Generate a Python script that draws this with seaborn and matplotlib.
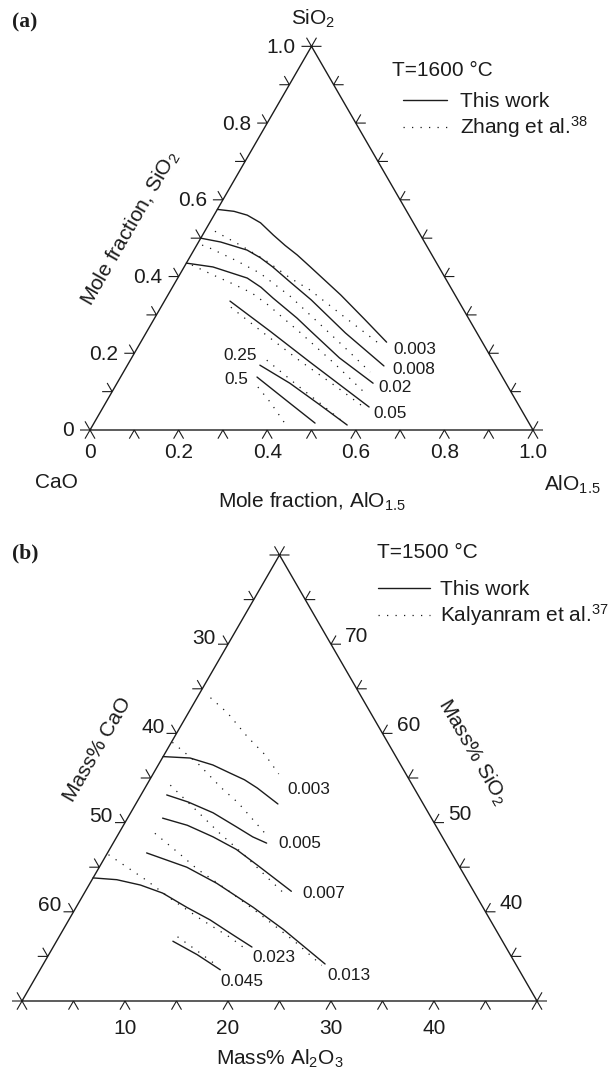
import numpy as np
import pandas as pd
import matplotlib
matplotlib.use("Agg")
import matplotlib.pyplot as plt
from matplotlib.lines import Line2D
import seaborn as sns

# ---------------------------------------------------------------------------
# (a) CaO-SiO2-AlO1.5 at 1600 C, mole fractions (AlO1.5, SiO2) along iso-lines
# ---------------------------------------------------------------------------
A_LEVELS = ["0.003", "0.008", "0.02", "0.05", "0.25", "0.5"]

# This work (solid)
a_tw_003_al = [0.0, 0.04, 0.075, 0.115, 0.16, 0.20, 0.24, 0.285, 0.39, 0.475, 0.555]
a_tw_003_si = [0.575, 0.57, 0.56, 0.54, 0.508, 0.481, 0.456, 0.425, 0.352, 0.289, 0.229]
a_tw_008_al = [0.0, 0.05, 0.12, 0.16, 0.20, 0.26, 0.33, 0.45, 0.58]
a_tw_008_si = [0.50, 0.49, 0.469, 0.449, 0.425, 0.385, 0.339, 0.253, 0.167]
a_tw_02_al = [0.0, 0.065, 0.157, 0.20, 0.241, 0.321, 0.369, 0.469, 0.578]
a_tw_02_si = [0.435, 0.425, 0.396, 0.372, 0.344, 0.292, 0.258, 0.188, 0.122]
a_tw_05_al = [0.148, 0.277, 0.408, 0.600]
a_tw_05_si = [0.336, 0.258, 0.177, 0.060]
a_tw_25_al = [0.299, 0.390, 0.487, 0.574]
a_tw_25_si = [0.169, 0.122, 0.065, 0.013]
a_tw_5_al = [0.308, 0.416, 0.499]
a_tw_5_si = [0.138, 0.070, 0.018]

# Zhang et al. (dotted)
a_zh_003_al = [0.023, 0.098, 0.174, 0.254, 0.314, 0.428, 0.550]
a_zh_003_si = [0.518, 0.482, 0.443, 0.396, 0.365, 0.294, 0.219]
a_zh_008_al = [0.012, 0.034, 0.106, 0.179, 0.277, 0.381, 0.469, 0.557]
a_zh_008_si = [0.482, 0.474, 0.443, 0.409, 0.349, 0.276, 0.214, 0.151]
a_zh_02_al = [0.015, 0.076, 0.139, 0.187, 0.239, 0.290, 0.346, 0.467, 0.580]
a_zh_02_si = [0.430, 0.404, 0.378, 0.357, 0.326, 0.292, 0.255, 0.172, 0.091]
a_zh_05_al = [0.158, 0.270, 0.384, 0.496, 0.596]
a_zh_05_si = [0.320, 0.250, 0.180, 0.115, 0.055]
a_zh_25_al = [0.308, 0.409, 0.484, 0.561]
a_zh_25_si = [0.182, 0.117, 0.070, 0.021]
a_zh_5_al = [0.323, 0.370, 0.436]
a_zh_5_si = [0.112, 0.073, 0.013]

a_ticks = [0.0, 0.1, 0.2, 0.3, 0.4, 0.5, 0.6, 0.7, 0.8, 0.9, 1.0]
a_tick_labels = ["0", "0.2", "0.4", "0.6", "0.8", "1.0"]

# ---------------------------------------------------------------------------
# (b) CaO-SiO2-Al2O3 at 1500 C, mass % (Al2O3, SiO2) along iso-lines
# ---------------------------------------------------------------------------
B_LEVELS = ["0.003", "0.005", "0.007", "0.013", "0.023", "0.045"]

# This work (solid)
b_tw_003_al = [0.0, 2.7, 5.3, 7.4, 9.2, 10.9, 13.8]
b_tw_003_si = [57.4, 57.24, 56.46, 55.56, 54.8, 53.88, 52.09]
b_tw_005_al = [2.5, 5.0, 8.0, 11.1, 13.2, 14.9]
b_tw_005_si = [53.1, 52.3, 51.1, 49.5, 48.4, 47.7]
b_tw_007_al = [3.4, 6.2, 9.35, 12.3, 15.2, 17.4, 20.0]
b_tw_007_si = [50.5, 49.7, 48.4, 47.0, 45.25, 43.9, 42.3]
b_tw_013_al = [3.8, 8.5, 12.3, 17.2, 21.4, 27.35]
b_tw_013_si = [46.6, 45.0, 43.2, 40.5, 38.0, 34.15]
b_tw_023_al = [0.0, 2.4, 5.0, 7.6, 10.75, 13.7, 16.8, 19.3]
b_tw_023_si = [43.8, 43.6, 43.0, 42.1, 40.5, 39.1, 37.4, 36.05]
b_tw_045_al = [11.3, 14.4, 17.5]
b_tw_045_si = [36.7, 35.2, 33.5]

# Kalyanram et al. (dotted)
b_ka_003_al = [1.3, 3.8, 7.1, 9.8, 12.2]
b_ka_003_si = [64.0, 62.3, 59.6, 57.6, 55.45]
b_ka_005_al = [0.1, 3.8, 7.4, 9.9, 12.3, 14.7]
b_ka_005_si = [59.0, 56.6, 53.9, 52.2, 50.3, 48.4]
b_ka_007_al = [2.3, 6.2, 9.8, 13.5, 17.1, 19.5]
b_ka_007_si = [54.2, 51.4, 48.8, 46.3, 43.7, 42.0]
b_ka_013_al = [3.5, 7.2, 9.6, 13.8, 18.2, 23.1, 27.1]
b_ka_013_si = [48.8, 46.4, 44.8, 42.4, 39.75, 36.7, 34.0]
b_ka_023_al = [0.2, 2.7, 5.2, 9.0, 12.9, 16.7, 19.0]
b_ka_023_si = [46.4, 45.0, 43.6, 41.3, 39.1, 37.1, 35.7]
b_ka_045_al = [11.5, 13.9, 16.4]
b_ka_045_si = [37.2, 35.8, 34.3]

b_al_ticks = [0, 5, 10, 15, 20, 25, 30, 35, 40, 45, 50]
b_al_labels = [10, 20, 30, 40]
b_cao_ticks = [20, 25, 30, 35, 40, 45, 50, 55, 60, 65, 70]
b_cao_labels = [30, 40, 50, 60]
b_si_ticks = [30, 35, 40, 45, 50, 55, 60, 65, 70, 75, 80]
b_si_labels = [70, 60, 50, 40]

# ---------------------------------------------------------------------------
sns.set_theme(style="white")
plt.rcParams["font.family"] = ["Liberation Sans", "DejaVu Sans"]
plt.rcParams["mathtext.fontset"] = "custom"
plt.rcParams["mathtext.rm"] = "Liberation Sans"
plt.rcParams["mathtext.it"] = "Liberation Sans:italic"
plt.rcParams["mathtext.bf"] = "Liberation Sans:bold"

INK = "#1c1c1c"
LW_EDGE = 1.0
LW_TICK = 0.8
LW_SOLID = 1.0
LW_DOT = 0.9
DOT = (0, (1.0, 5.8))
FS = 15
FS_LVL = 12.4

W, H = 612, 1073
SQ3 = np.sqrt(3) / 2

fig = plt.figure(figsize=(W / 100, H / 100), dpi=100)


def px_text(x, y, s, **kw):
    """Place text at a pixel position of the figure (origin top-left)."""
    kw.setdefault("color", INK)
    kw.setdefault("fontsize", FS)
    return fig.text(x / W, 1 - y / H, s, **kw)


def tern_a(al, si):
    al = np.asarray(al, float)
    si = np.asarray(si, float)
    return al + si / 2, si * SQ3


def tern_b(al, si):
    al = np.asarray(al, float)
    si = np.asarray(si, float)
    return al + (si - 30) / 2, (si - 30) * SQ3


def curve_frame(curves, tern):
    rows = []
    for cid, (al, si) in enumerate(curves):
        u, v = tern(al, si)
        rows.append(pd.DataFrame({"u": u, "v": v, "curve": cid}))
    return pd.concat(rows, ignore_index=True)


def draw_ticks(ax, u, v, angles, length):
    xs, ys = [], []
    for pu, pv in zip(u, v):
        for ang in angles:
            t = np.deg2rad(ang)
            xs += [pu, pu + length * np.cos(t), np.nan]
            ys += [pv, pv + length * np.sin(t), np.nan]
    ax.plot(xs, ys, color=INK, lw=LW_TICK, solid_capstyle="butt")


def add_legend(ax, labels, x0, y_top, hlen, hpad):
    handles = [Line2D([], [], color=INK, lw=LW_SOLID),
               Line2D([], [], color=INK, lw=LW_DOT, linestyle=DOT)]
    leg = ax.legend(handles, labels, loc="upper left",
                    bbox_to_anchor=(x0 / W, 1 - y_top / H),
                    bbox_transform=fig.transFigure, frameon=False,
                    borderpad=0, borderaxespad=0, handlelength=hlen,
                    handletextpad=hpad, labelspacing=0.15, fontsize=FS)
    for t in leg.get_texts():
        t.set_color(INK)


# ============================ panel (a) ====================================
top_a = 536
ax_a = fig.add_axes([0, 1 - top_a / H, 1, top_a / H])
sa = 443.0
ax_a.set_xlim(-90 / sa, (W - 90) / sa)
ax_a.set_ylim((430 - top_a) / sa, 430 / sa)

tw_a = curve_frame([(a_tw_003_al, a_tw_003_si), (a_tw_008_al, a_tw_008_si),
                    (a_tw_02_al, a_tw_02_si), (a_tw_05_al, a_tw_05_si),
                    (a_tw_25_al, a_tw_25_si), (a_tw_5_al, a_tw_5_si)], tern_a)
zh_a = curve_frame([(a_zh_003_al, a_zh_003_si), (a_zh_008_al, a_zh_008_si),
                    (a_zh_02_al, a_zh_02_si), (a_zh_05_al, a_zh_05_si),
                    (a_zh_25_al, a_zh_25_si), (a_zh_5_al, a_zh_5_si)], tern_a)
sns.lineplot(data=tw_a, x="u", y="v", units="curve", estimator=None, sort=False,
             color=INK, lw=LW_SOLID, legend=False, ax=ax_a)
sns.lineplot(data=zh_a, x="u", y="v", units="curve", estimator=None, sort=False,
             color=INK, lw=LW_DOT, linestyle=DOT, legend=False, ax=ax_a)

# triangle and ticks
fu, fv = tern_a([0, 1, 0, 0], [0, 0, 1, 0])
ax_a.plot(fu, fv, color=INK, lw=LW_EDGE)
tk = np.array(a_ticks)
L_a = 10 / sa
draw_ticks(ax_a, *tern_a(tk, np.zeros_like(tk)), (240, 300), L_a)
draw_ticks(ax_a, *tern_a(np.zeros_like(tk), tk), (180, 120), L_a)
draw_ticks(ax_a, *tern_a(1 - tk, tk), (0, 60), L_a)

for lab in a_tick_labels:
    val = float(lab)
    bx, by = tern_a(val, 0.0)
    px_text(90 + sa * bx, 430 - sa * by + 23, lab, ha="center", va="center")
    lx, ly = tern_a(0.0, val)
    px_text(90 + sa * lx - 16, 430 - sa * ly + 1, lab, ha="right", va="center")

# iso-line labels
px_text(393, 349, A_LEVELS[0], ha="left", va="center", fontsize=FS_LVL)
px_text(392, 369, A_LEVELS[1], ha="left", va="center", fontsize=FS_LVL)
px_text(378, 388, A_LEVELS[2], ha="left", va="center", fontsize=FS_LVL)
px_text(373, 413, A_LEVELS[3], ha="left", va="center", fontsize=FS_LVL)
px_text(257, 356, A_LEVELS[4], ha="right", va="center", fontsize=FS_LVL)
px_text(248, 379, A_LEVELS[5], ha="right", va="center", fontsize=FS_LVL)

px_text(12, 22, "(a)", ha="left", va="center", fontsize=15.5,
        family="Liberation Serif", weight="bold")
px_text(313, 19, "SiO$_2$", ha="center", va="center")
px_text(56, 482, "CaO", ha="center", va="center")
px_text(572, 485, "AlO$_{1.5}$", ha="center", va="center")
px_text(312, 502, "Mole fraction, AlO$_{1.5}$", ha="center", va="center")
px_text(130, 228, "Mole fraction, SiO$_2$", ha="center", va="center",
        rotation=60, rotation_mode="anchor")
px_text(392, 71, "T=1600 \u00b0C", ha="left", va="center")
add_legend(ax_a, ["This work", "Zhang et al.$^{38}$"], 403, 92, 2.1, 0.63)
ax_a.set_axis_off()

# ============================ panel (b) ====================================
ax_b = fig.add_axes([0, 0, 1, 1 - top_a / H])
sb = 10.3
ax_b.set_xlim(-22 / sb, (W - 22) / sb)
ax_b.set_ylim((1001 - H) / sb, (1001 - top_a) / sb)

tw_b = curve_frame([(b_tw_003_al, b_tw_003_si), (b_tw_005_al, b_tw_005_si),
                    (b_tw_007_al, b_tw_007_si), (b_tw_013_al, b_tw_013_si),
                    (b_tw_023_al, b_tw_023_si), (b_tw_045_al, b_tw_045_si)], tern_b)
ka_b = curve_frame([(b_ka_003_al, b_ka_003_si), (b_ka_005_al, b_ka_005_si),
                    (b_ka_007_al, b_ka_007_si), (b_ka_013_al, b_ka_013_si),
                    (b_ka_023_al, b_ka_023_si), (b_ka_045_al, b_ka_045_si)], tern_b)
sns.lineplot(data=tw_b, x="u", y="v", units="curve", estimator=None, sort=False,
             color=INK, lw=LW_SOLID, legend=False, ax=ax_b)
sns.lineplot(data=ka_b, x="u", y="v", units="curve", estimator=None, sort=False,
             color=INK, lw=LW_DOT, linestyle=DOT, legend=False, ax=ax_b)

fu, fv = tern_b([0, 50, 0, 0], [30, 30, 80, 30])
ax_b.plot(fu, fv, color=INK, lw=LW_EDGE)
L_b = 10 / sb
alt = np.array(b_al_ticks, float)
draw_ticks(ax_b, *tern_b(alt, np.full_like(alt, 30.0)), (240, 300), L_b)
cat = np.array(b_cao_ticks, float)
draw_ticks(ax_b, *tern_b(np.zeros_like(cat), 100 - cat), (180, 120), L_b)
sit = np.array(b_si_ticks, float)
draw_ticks(ax_b, *tern_b(80 - sit, sit), (0, 60), L_b)


def to_px_b(u, v):
    return 22 + sb * u, 1001 - sb * v


for val in b_al_labels:
    x, y = to_px_b(*tern_b(val, 30.0))
    px_text(x, y + 27, str(val), ha="center", va="center")
for val in b_cao_labels:
    x, y = to_px_b(*tern_b(0.0, 100.0 - val))
    px_text(x - 12, y - 6, str(val), ha="right", va="center")
for val in b_si_labels:
    x, y = to_px_b(*tern_b(80.0 - val, float(val)))
    px_text(x + 14, y - 8, str(val), ha="left", va="center")

px_text(287, 790, B_LEVELS[0], ha="left", va="center", fontsize=FS_LVL)
px_text(278, 844, B_LEVELS[1], ha="left", va="center", fontsize=FS_LVL)
px_text(302, 894, B_LEVELS[2], ha="left", va="center", fontsize=FS_LVL)
px_text(327, 976, B_LEVELS[3], ha="left", va="center", fontsize=FS_LVL)
px_text(252, 958, B_LEVELS[4], ha="left", va="center", fontsize=FS_LVL)
px_text(220, 981, B_LEVELS[5], ha="left", va="center", fontsize=FS_LVL)

px_text(12, 553, "(b)", ha="left", va="center", fontsize=15.5,
        family="Liberation Serif", weight="bold")
px_text(377, 552, "T=1500 \u00b0C", ha="left", va="center")
px_text(280, 1059, "Mass% Al$_2$O$_3$", ha="center", va="center")
px_text(98, 750, "Mass% CaO", ha="center", va="center",
        rotation=60, rotation_mode="anchor")
px_text(472, 752, "Mass% SiO$_2$", ha="center", va="center",
        rotation=-60, rotation_mode="anchor")
add_legend(ax_b, ["This work", "Kalyanram et al.$^{37}$"], 378, 580, 2.5, 0.48)
ax_b.set_axis_off()

fig.savefig("out.png", dpi=100)
